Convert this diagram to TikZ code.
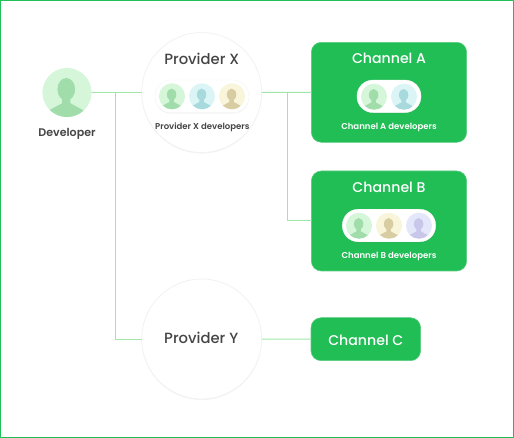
\documentclass[tikz,border=0pt]{standalone}
\usepackage{fontspec}
\setmainfont{Poppins}
\newfontfamily\mediumfont{Poppins Medium}
\newfontfamily\semifont{Poppins SemiBold}
\usetikzlibrary{shadows}

\definecolor{framegreen}{HTML}{1FC05A}
\definecolor{channelgreen}{HTML}{21BD55}
\definecolor{linkgreen}{HTML}{A0E6A8}
\definecolor{textgray}{HTML}{454545}
\definecolor{greenbg}{HTML}{D5F6D8}
\definecolor{greenfg}{HTML}{A0DDAB}
\definecolor{tealbg}{HTML}{DBF5F7}
\definecolor{tealfg}{HTML}{A7D9DD}
\definecolor{yellowbg}{HTML}{F9F5DA}
\definecolor{yellowfg}{HTML}{D8CDA2}
\definecolor{violetbg}{HTML}{E4E6FA}
\definecolor{violetfg}{HTML}{C9C7E9}

\tikzset{
	softshadow/.style={drop shadow={opacity=0.09,shadow xshift=0pt,shadow yshift=-0.8pt}},
	provider/.style={circle,fill=white,draw=black!5,line width=0.6pt,minimum size=90pt,inner sep=0pt,softshadow},
	channel/.style={rectangle,rounded corners=7.5pt,fill=channelgreen,draw=channelgreen!75!white,line width=0.4pt,minimum width=116.5pt,minimum height=75pt,inner sep=0pt},
	pill/.style={rectangle,rounded corners=12pt,fill=white,draw=black!4,line width=0.3pt,minimum height=24.4pt,inner sep=0pt,softshadow},
	link/.style={draw=linkgreen,line width=0.75pt},
	title/.style={font=\mediumfont\fontsize{11.1}{13}\selectfont,text=textgray,inner sep=0pt},
	whitetitle/.style={title,font=\mediumfont\fontsize{10.6}{13}\selectfont,text=white},
	caption/.style={font=\semifont\fontsize{6.4}{8}\selectfont,text=textgray,inner sep=0pt},
	whitecaption/.style={caption,text=white},
	avatar/.style n args={3}{circle,inner sep=0pt,minimum size=2*#1,fill=#2,
		path picture={
			\begin{scope}[shift={(path picture bounding box.center)},x=#1,y=#1]
				\fill[#3] (-0.03,0.13) ellipse (0.36 and 0.46);
				\fill[#3] (-0.72,-1.05) -- (-0.72,-0.72) -- (-0.2,-0.44) -- (-0.2,-0.15) -- (0.14,-0.15) -- (0.14,-0.44) -- (0.66,-0.72) -- (0.66,-1.05) -- cycle;
			\end{scope}
		}},
	smallavatar/.style 2 args={avatar={9.75pt}{#1}{#2}}
}

\begin{document}
\begin{tikzpicture}[x=0.75pt,y=-0.75pt,line cap=round,line join=round]
	\useasboundingbox (0,0) rectangle (514,438);
	\draw[framegreen,line width=1.1pt] (0.7,0.7) rectangle (513.3,437.3);

	% Developer
	\node[avatar={18.4pt}{greenbg}{greenfg}] (developer) at (67,92.5) {};
	\node[font=\semifont\fontsize{8.3}{10}\selectfont,text=textgray,inner sep=0pt] (developerlabel) at (67,134) {Developer};

	% Providers
	\node[provider] (providerX) at (201.7,92.5) {};
	\node[provider] (providerY) at (201.7,339) {};
	\node[title] (providerXtitle) at (201.7,58.5) {Provider X};
	\node[title] (providerYtitle) at (201.2,338) {Provider Y};
	\node[pill,minimum width=70.5pt] (providerXpill) at (202,96.3) {};
	\node[smallavatar={greenbg}{greenfg}] (xdevone) at (172,96.3) {};
	\node[smallavatar={tealbg}{tealfg}] (xdevtwo) at (202,96.3) {};
	\node[smallavatar={yellowbg}{yellowfg}] (xdevthree) at (232,96.3) {};
	\node[caption] (providerXcaption) at (202.3,127.5) {Provider X developers};

	% Channels
	\node[channel] (channelA) at (389,92.3) {};
	\node[channel] (channelB) at (389,221) {};
	\node[channel,minimum width=82.2pt,minimum height=32.2pt] (channelC) at (365.8,339.2) {};
	\node[whitetitle] (channelAtitle) at (389,58) {Channel A};
	\node[whitetitle] (channelBtitle) at (389,187.5) {Channel B};
	\node[whitetitle] (channelCtitle) at (365.8,340) {Channel C};
	\node[pill,minimum width=48pt] (channelApill) at (389,96.3) {};
	\node[smallavatar={greenbg}{greenfg}] (adevone) at (374,96.7) {};
	\node[smallavatar={tealbg}{tealfg}] (adevtwo) at (404,96.7) {};
	\node[pill,minimum width=70pt] (channelBpill) at (389,225.5) {};
	\node[smallavatar={greenbg}{greenfg}] (bdevone) at (359,225.7) {};
	\node[smallavatar={yellowbg}{yellowfg}] (bdevtwo) at (389,225.7) {};
	\node[smallavatar={violetbg}{violetfg}] (bdevthree) at (419,225.7) {};
	\node[whitecaption] (channelAcaption) at (389,127.5) {Channel A developers};
	\node[whitecaption] (channelBcaption) at (389,256) {Channel B developers};

	% Connectors
	\coordinate (developerjoint) at (115.5,92.5);
	\coordinate (providerjoint) at (287.7,92.5);
	\draw[link] (developer.east) -- (providerX.west);
	\draw[link] (developerjoint) |- (providerY.west);
	\draw[link] (providerX.east) -- (channelA.west);
	\draw[link] (providerjoint) |- (channelB.west);
	\draw[link] (providerY.east) -- (channelC.west);
\end{tikzpicture}
\end{document}
